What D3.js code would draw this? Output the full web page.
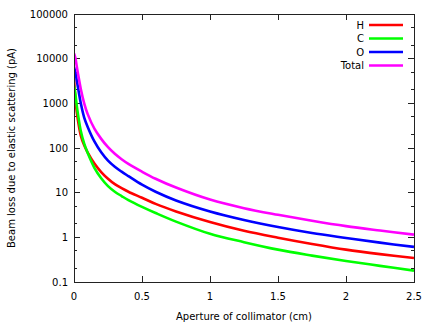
<!DOCTYPE html>
<html>
<head>
<meta charset="utf-8">
<script src="https://cdn.jsdelivr.net/npm/d3@7"></script>
<style>
  body { margin: 0; background: #fff; }
  svg { display: block; font-family: 'DejaVu Sans', sans-serif; }
</style>
</head>
<body>
<svg id="chart"></svg>
<script>
// aperture of collimator (cm)
const apertures = [0, 0.01, 0.02, 0.03, 0.05, 0.075, 0.1, 0.15, 0.2, 0.25, 0.3, 0.35, 0.4, 0.5, 0.6, 0.75, 1, 1.25, 1.5, 1.75, 2, 2.25, 2.5];

// beam loss (pA)
const lossH = [3550, 1300, 650, 400, 190, 115, 80, 45, 29, 20.5, 15.5, 12.6, 10.5, 7.7, 5.6, 3.8, 2.2, 1.4, 0.98, 0.71, 0.53, 0.42, 0.344];
const lossC = [2500, 1600, 900, 550, 240, 125, 78, 36, 21, 14, 10.5, 8.4, 6.8, 4.8, 3.5, 2.25, 1.2, 0.78, 0.53, 0.39, 0.295, 0.23, 0.18];
const lossO = [6500, 5000, 3300, 2200, 1000, 480, 300, 140, 80, 52, 38, 29.5, 23.5, 15.1, 10.5, 6.7, 3.8, 2.45, 1.7, 1.25, 0.97, 0.76, 0.61];
const lossTotal = [13000, 10500, 6800, 4500, 2100, 1000, 580, 270, 160, 104, 74, 56, 44, 29.5, 20.5, 13, 7.0, 4.5, 3.2, 2.35, 1.78, 1.42, 1.15];

const seriesNames = ['H', 'C', 'O', 'Total'];
const seriesColors = ['#ff0000', '#00ff00', '#0000ff', '#ff00ff'];
const seriesValues = [lossH, lossC, lossO, lossTotal];

const xTicks = [0, 0.5, 1, 1.5, 2, 2.5];
const yTicks = [0.1, 1, 10, 100, 1000, 10000, 100000];
const yMinorTicks = [0.2, 0.5, 2, 5, 20, 50, 200, 500, 2000, 5000, 20000, 50000];

const width = 434;
const height = 325;
const margin = { top: 14, right: 20, bottom: 43, left: 74 };

const svg = d3.select('#chart')
  .attr('width', width)
  .attr('height', height);

const x = d3.scaleLinear()
  .domain([0, 2.5])
  .range([margin.left, width - margin.right]);

const y = d3.scaleLog()
  .domain([0.1, 100000])
  .range([height - margin.bottom, margin.top]);

const frameColor = '#222';

// ticks, gnuplot style: inward, mirrored on both sides
const tickGroup = svg.append('g')
  .attr('stroke', frameColor)
  .attr('stroke-width', 1)
  .attr('shape-rendering', 'crispEdges');

xTicks.forEach(t => {
  tickGroup.append('line')
    .attr('x1', x(t)).attr('x2', x(t))
    .attr('y1', y.range()[0]).attr('y2', y.range()[0] - 6);
  tickGroup.append('line')
    .attr('x1', x(t)).attr('x2', x(t))
    .attr('y1', y.range()[1]).attr('y2', y.range()[1] + 6);
});

yTicks.forEach(t => {
  tickGroup.append('line')
    .attr('x1', x.range()[0]).attr('x2', x.range()[0] + 6)
    .attr('y1', y(t)).attr('y2', y(t));
  tickGroup.append('line')
    .attr('x1', x.range()[1]).attr('x2', x.range()[1] - 6)
    .attr('y1', y(t)).attr('y2', y(t));
});

yMinorTicks.forEach(t => {
  tickGroup.append('line')
    .attr('x1', x.range()[0]).attr('x2', x.range()[0] + 3)
    .attr('y1', y(t)).attr('y2', y(t));
  tickGroup.append('line')
    .attr('x1', x.range()[1]).attr('x2', x.range()[1] - 3)
    .attr('y1', y(t)).attr('y2', y(t));
});

// tick labels
svg.append('g')
  .attr('font-size', 10)
  .attr('fill', '#000')
  .attr('text-anchor', 'middle')
  .selectAll('text')
  .data(xTicks)
  .enter()
  .append('text')
  .attr('x', d => x(d))
  .attr('y', 300)
  .text(d => d);

svg.append('g')
  .attr('font-size', 10)
  .attr('fill', '#000')
  .attr('text-anchor', 'end')
  .selectAll('text')
  .data(yTicks)
  .enter()
  .append('text')
  .attr('x', x.range()[0] - 6)
  .attr('y', d => y(d))
  .attr('dy', '0.35em')
  .text(d => d);

// axis titles
svg.append('text')
  .attr('x', (x.range()[0] + x.range()[1]) / 2)
  .attr('y', 320)
  .attr('font-size', 10)
  .attr('text-anchor', 'middle')
  .text('Aperture of collimator (cm)');

svg.append('text')
  .attr('transform', `translate(15,${(y.range()[0] + y.range()[1]) / 2}) rotate(-90)`)
  .attr('font-size', 10)
  .attr('text-anchor', 'middle')
  .text('Beam loss due to elastic scattering (pA)');

// curves
svg.append('clipPath')
  .attr('id', 'plot-clip')
  .append('rect')
  .attr('x', x.range()[0])
  .attr('y', y.range()[1])
  .attr('width', x.range()[1] - x.range()[0])
  .attr('height', y.range()[0] - y.range()[1]);

const line = d3.line()
  .x(d => x(d[0]))
  .y(d => y(d[1]))
  .curve(d3.curveCatmullRom.alpha(0.5));

svg.append('g')
  .attr('clip-path', 'url(#plot-clip)')
  .selectAll('path')
  .data(seriesValues)
  .enter()
  .append('path')
  .attr('fill', 'none')
  .attr('stroke', (d, i) => seriesColors[i])
  .attr('stroke-width', 2.6)
  .attr('d', d => line(apertures.map((a, j) => [a, d[j]])));

// frame
svg.append('rect')
  .attr('x', x.range()[0])
  .attr('y', y.range()[1])
  .attr('width', x.range()[1] - x.range()[0])
  .attr('height', y.range()[0] - y.range()[1])
  .attr('fill', 'none')
  .attr('stroke', frameColor)
  .attr('stroke-width', 1)
  .attr('shape-rendering', 'crispEdges');

// legend
const legend = svg.append('g')
  .attr('font-size', 10)
  .attr('text-anchor', 'end')
  .selectAll('g')
  .data(seriesNames)
  .enter()
  .append('g')
  .attr('transform', (d, i) => `translate(0,${25 + i * 13.5})`);

legend.append('line')
  .attr('x1', 369)
  .attr('x2', 403)
  .attr('stroke', (d, i) => seriesColors[i])
  .attr('stroke-width', 2.6);

legend.append('text')
  .attr('x', 364)
  .attr('dy', '0.35em')
  .text(d => d);
</script>
</body>
</html>
